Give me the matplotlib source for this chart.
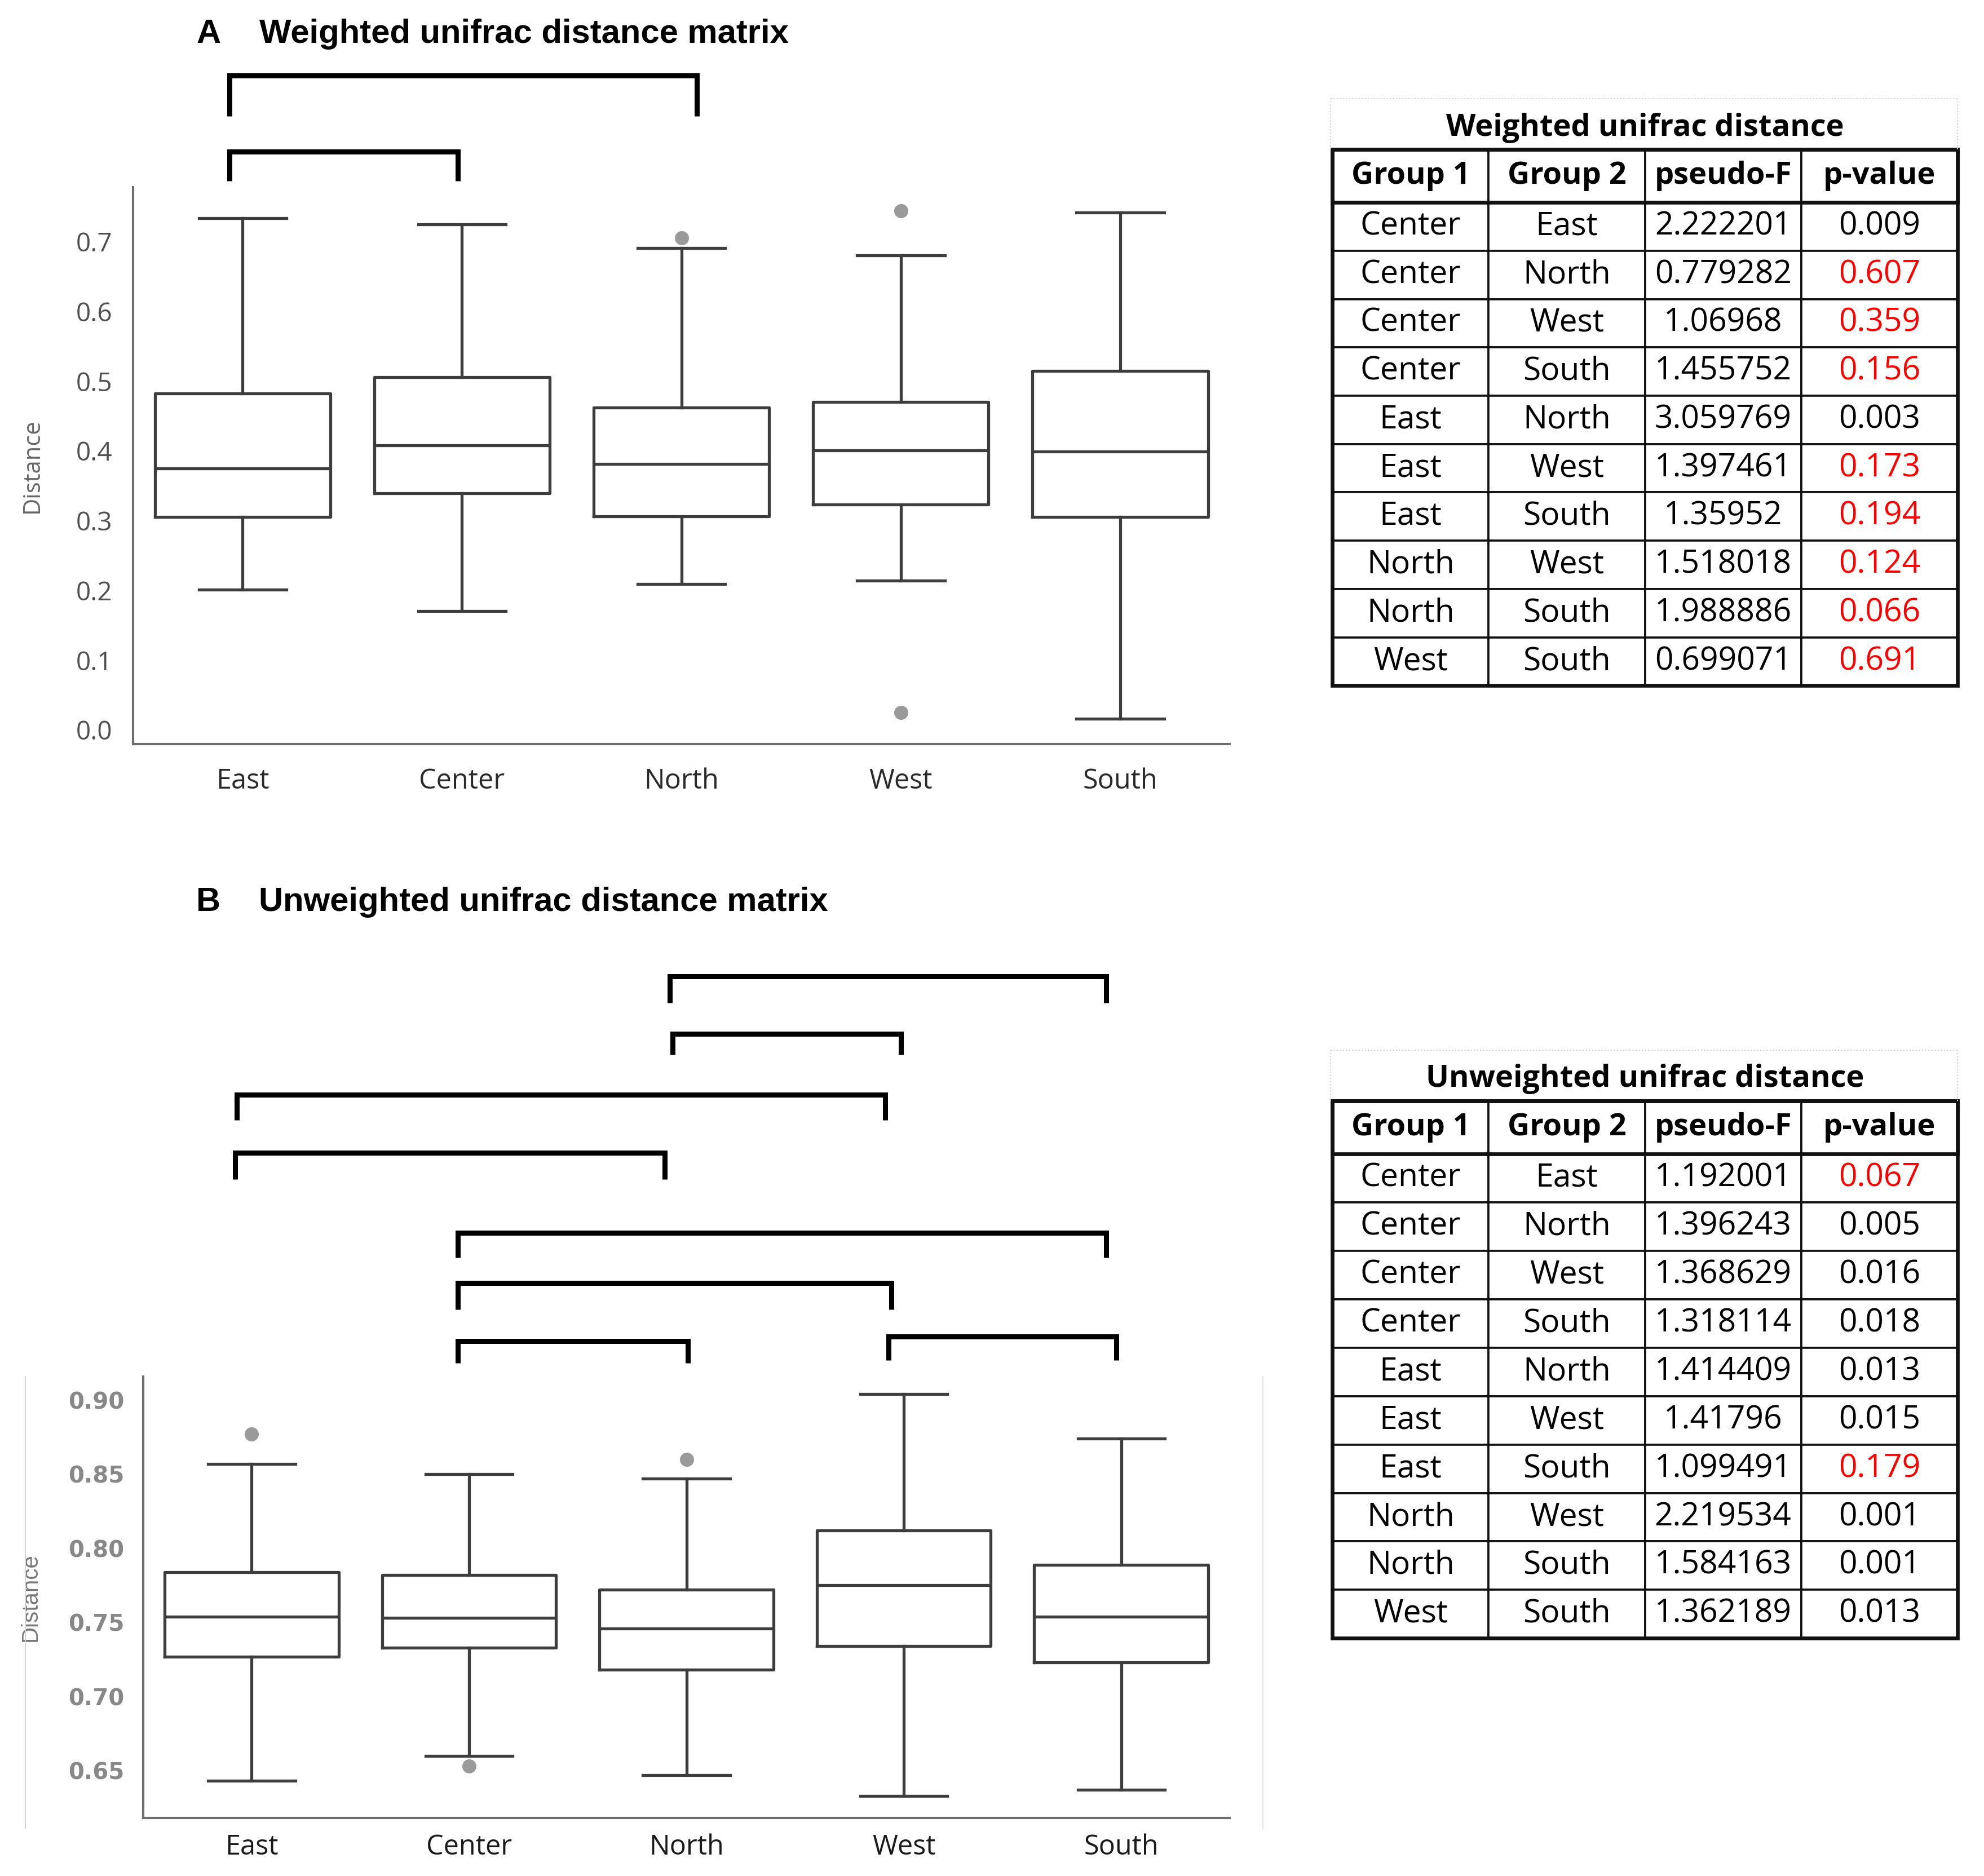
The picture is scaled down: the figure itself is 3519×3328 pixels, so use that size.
import matplotlib
matplotlib.use("Agg")
import matplotlib.pyplot as plt
from matplotlib.lines import Line2D
from matplotlib.patches import Rectangle

GROUPS = ["East", "Center", "North", "West", "South"]

# Panel A - weighted unifrac distances (box stats)
A_WHISLO = [0.201, 0.170, 0.209, 0.214, 0.016]
A_Q1 = [0.305, 0.339, 0.306, 0.323, 0.305]
A_MED = [0.375, 0.408, 0.381, 0.401, 0.399]
A_Q3 = [0.482, 0.506, 0.462, 0.470, 0.515]
A_WHISHI = [0.734, 0.725, 0.691, 0.680, 0.742]
A_FLIERS = [[], [], [0.705], [0.744, 0.025], []]

# Panel B - unweighted unifrac distances
B_WHISLO = [0.643, 0.660, 0.647, 0.633, 0.637]
B_Q1 = [0.727, 0.733, 0.718, 0.734, 0.723]
B_MED = [0.754, 0.753, 0.746, 0.775, 0.754]
B_Q3 = [0.784, 0.782, 0.772, 0.812, 0.789]
B_WHISHI = [0.857, 0.850, 0.847, 0.904, 0.874]
B_FLIERS = [[0.877], [0.653], [0.860], [], []]

A_TICKS = [0.0, 0.1, 0.2, 0.3, 0.4, 0.5, 0.6, 0.7]
B_TICKS = [0.65, 0.70, 0.75, 0.80, 0.85, 0.90]

# significant pairs, marked with brackets
A_PAIRS = [("East", "North"), ("East", "Center")]
B_PAIRS = [("North", "South"), ("North", "West"), ("East", "West"), ("East", "North"),
           ("Center", "South"), ("Center", "West"), ("Center", "North"), ("West", "South")]

# PERMANOVA tables
TABLE_COLS = ["Group 1", "Group 2", "pseudo-F", "p-value"]
PAIR_G1 = ["Center", "Center", "Center", "Center", "East", "East", "East", "North", "North", "West"]
PAIR_G2 = ["East", "North", "West", "South", "North", "West", "South", "West", "South", "South"]
A_F = ["2.222201", "0.779282", "1.06968", "1.455752", "3.059769",
       "1.397461", "1.35952", "1.518018", "1.988886", "0.699071"]
A_P = ["0.009", "0.607", "0.359", "0.156", "0.003", "0.173", "0.194", "0.124", "0.066", "0.691"]
B_F = ["1.192001", "1.396243", "1.368629", "1.318114", "1.414409",
       "1.41796", "1.099491", "2.219534", "1.584163", "1.362189"]
B_P = ["0.067", "0.005", "0.016", "0.018", "0.013", "0.015", "0.179", "0.001", "0.001", "0.013"]

# bracket layout: (bar y, leg end y, left x shift, right x shift) in data units
A_BRACKET_LAYOUT = [(0.938, 0.880, -0.06, 0.07), (0.829, 0.787, -0.06, -0.02)]
B_BRACKET_LAYOUT = [(1.186, 1.168, -0.076, -0.070), (1.147, 1.133, -0.064, -0.012),
                    (1.106, 1.089, -0.070, -0.087), (1.067, 1.049, -0.076, -0.099),
                    (1.013, 0.996, -0.052, -0.070), (0.979, 0.961, -0.052, -0.058),
                    (0.940, 0.925, -0.052, 0.006), (0.943, 0.927, -0.070, -0.023)]

SANS = ["Open Sans", "DejaVu Sans"]
ARIAL = ["Liberation Sans", "DejaVu Sans"]
BOX_COLOR = "#3d3d3d"


def box_stats(lo, q1, med, q3, hi, fliers):
    return [dict(whislo=a, q1=b, med=c, q3=d, whishi=e, fliers=f, label=g)
            for a, b, c, d, e, f, g in zip(lo, q1, med, q3, hi, fliers, GROUPS)]


def draw_boxes(ax, stats):
    line = dict(color=BOX_COLOR, linewidth=3.8)
    ax.bxp(stats, positions=range(len(stats)), widths=0.8, showfliers=True,
           boxprops=line, whiskerprops=line, capprops=line, medianprops=line,
           flierprops=dict(marker="o", markersize=17, markerfacecolor="#9a9a9a",
                           markeredgecolor="#9a9a9a"))
    ax.set_xlim(-0.5, len(stats) - 0.5)
    for side in ("top", "right"):
        ax.spines[side].set_visible(False)
    for side in ("left", "bottom"):
        ax.spines[side].set_color("#6e6e6e")
        ax.spines[side].set_linewidth(3.0)


def draw_brackets(ax, pairs, layout):
    for (g1, g2), (ytop, yend, dx1, dx2) in zip(pairs, layout):
        x1 = GROUPS.index(g1) + dx1
        x2 = GROUPS.index(g2) + dx2
        ax.plot([x1, x1, x2, x2], [yend, ytop, ytop, yend], color="black",
                linewidth=6.5, solid_joinstyle="miter", solid_capstyle="butt", clip_on=False)


def draw_table(fig, rect, title, fvals, pvals):
    ax = fig.add_axes(rect)
    ax.axis("off")
    rows = [list(r) for r in zip(PAIR_G1, PAIR_G2, fvals, pvals)]
    tbl = ax.table(cellText=rows, colLabels=TABLE_COLS, cellLoc="center", bbox=[0, 0, 1, 1])
    tbl.auto_set_font_size(False)
    for (r, c), cell in tbl.get_celld().items():
        cell.set_linewidth(2.6)
        cell.set_edgecolor("#111111")
        txt = cell.get_text()
        txt.set_fontfamily(SANS)
        if r == 0:
            cell.set_height(42)
            txt.set_fontsize(39)
            txt.set_fontweight("bold")
        else:
            cell.set_height(38.2)
            txt.set_fontsize(41)
            if c == 3 and float(pvals[r - 1]) > 0.05:
                txt.set_color("#ff0000")
    hdr = 42 / (42 + 382)
    ax.add_patch(Rectangle((0, 0), 1, 1, transform=ax.transAxes, fill=False,
                           linewidth=4.8, edgecolor="#111111", clip_on=False))
    ax.add_patch(Rectangle((0, 1 - hdr), 1, hdr, transform=ax.transAxes, fill=False,
                           linewidth=4.8, edgecolor="#111111", clip_on=False))
    left, bottom, width, height = rect
    top = bottom + height
    fig.text(left + width / 2, top + 0.0115, title, ha="center", va="center",
             fontsize=39, fontweight="bold", family=SANS)
    # faint dotted frame around the title cell
    for xs, ys in (([left, left + width], [top + 0.027, top + 0.027]),
                   ([left, left], [top, top + 0.027]),
                   ([left + width, left + width], [top, top + 0.027])):
        fig.add_artist(Line2D([x - 0.001 if x == left else x for x in xs], ys,
                              color="#cfcfcf", linewidth=1.5, linestyle=":"))


fig = plt.figure(figsize=(35.19, 33.28), dpi=100)

# ---- panel A
axA = fig.add_axes([0.0670, 0.6035, 0.5529, 0.2967])
draw_boxes(axA, box_stats(A_WHISLO, A_Q1, A_MED, A_Q3, A_WHISHI, A_FLIERS))
axA.set_ylim(-0.020, 0.778)
axA.set_yticks(A_TICKS)
axA.set_yticklabels([f"{t:.1f}" for t in A_TICKS], family=SANS, fontsize=33, color="#505050")
axA.set_xticks(range(len(GROUPS)))
axA.set_xticklabels(GROUPS, family=SANS, fontsize=35, color="#2a2a2a")
axA.tick_params(axis="y", length=0, pad=26)
axA.tick_params(axis="x", length=0, pad=30)
axA.set_ylabel("Distance", family=SANS, fontsize=30, color="#666666")
axA.yaxis.set_label_coords(-0.081, 0.5)
draw_brackets(axA, A_PAIRS, A_BRACKET_LAYOUT)
fig.text(0.0989, 0.9818, "A", family=ARIAL, fontsize=43, fontweight="bold", va="center")
fig.text(0.1307, 0.9818, "Weighted unifrac distance matrix", family=ARIAL,
         fontsize=43, fontweight="bold", va="center")

# ---- panel B
axB = fig.add_axes([0.0721, 0.0309, 0.5478, 0.2354])
draw_boxes(axB, box_stats(B_WHISLO, B_Q1, B_MED, B_Q3, B_WHISHI, B_FLIERS))
axB.set_ylim(0.618, 0.916)
axB.set_yticks(B_TICKS)
axB.set_yticklabels([f"{t:.2f}" for t in B_TICKS], family="DejaVu Sans", fontsize=29,
                    fontweight="bold", color="#888888")
axB.set_xticks(range(len(GROUPS)))
axB.set_xticklabels(GROUPS, family=SANS, fontsize=35, color="#1a1a1a")
axB.tick_params(axis="y", length=0, pad=24)
axB.tick_params(axis="x", length=0, pad=20)
axB.set_ylabel("Distance", family=ARIAL, fontsize=29, color="#777777")
axB.yaxis.set_label_coords(-0.094, 0.5)
draw_brackets(axB, B_PAIRS, B_BRACKET_LAYOUT)
fig.text(0.0989, 0.5192, "B", family=ARIAL, fontsize=43, fontweight="bold", va="center")
fig.text(0.1303, 0.5192, "Unweighted unifrac distance matrix", family=ARIAL,
         fontsize=43, fontweight="bold", va="center")
# faint frame lines left over from the pasted panel
fig.add_artist(Line2D([0.0128, 0.0128], [0.0255, 0.2663], color="#d5d5d5", linewidth=1.5))
fig.add_artist(Line2D([0.6365, 0.6365], [0.0255, 0.2663], color="#e2e2e2", linewidth=1.5))

# ---- tables
draw_table(fig, [0.6716, 0.6345, 0.3150, 0.2859], "Weighted unifrac distance", A_F, A_P)
draw_table(fig, [0.6716, 0.1267, 0.3150, 0.2866], "Unweighted unifrac distance", B_F, B_P)

fig.savefig("out.png", dpi=100, facecolor="white")
